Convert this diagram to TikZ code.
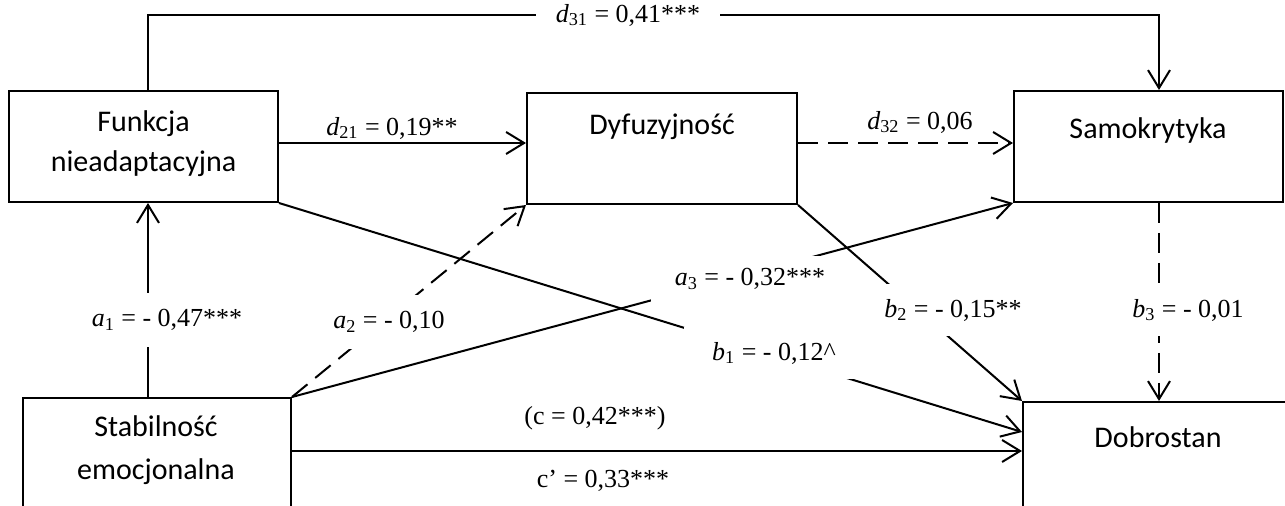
\documentclass[tikz,border=0pt]{standalone}
\usepackage{fontspec}
\setmainfont{Liberation Serif}
\newfontfamily\boxfont{Carlito}
\usetikzlibrary{arrows.meta,positioning,calc}
\newcommand{\pvar}[2]{\textit{#1}\textsubscript{#2}}

\begin{document}
\begin{tikzpicture}[x=0.5pt, y=-0.5pt,
    box/.style={draw, line width=1pt, inner sep=0pt},
    boxtext/.style={font=\boxfont\fontsize{15}{20}\selectfont, align=center, inner sep=0pt},
    path/.style={line width=1pt, -{Straight Barb[length=9pt,width=11pt]}},
    nsdash/.style={dash pattern=on 10pt off 5pt},
    coef/.style={fill=white, inner xsep=2pt, inner ysep=7.5pt, font=\fontsize{13}{15}\selectfont}]
  \useasboundingbox (0,0) rectangle (1285,506);
  \clip (0,0) rectangle (1285,506);
  % variables
  \node[box, minimum width=134.5pt, minimum height=55.5pt] (funk) at (143.5,146.5) {};
  \node[boxtext] (funkT) at (143.5,143.5) {Funkcja\\nieadaptacyjna};
  \node[box, minimum width=135pt, minimum height=55.5pt] (dyf) at (662,148.5) {};
  \node[boxtext, anchor=base] (dyfT) at (662,135) {Dyfuzyjność};
  \node[box, minimum width=134.5pt, minimum height=55.5pt] (samo) at (1148.5,146.5) {};
  \node[boxtext, anchor=base] (samoT) at (1148,139) {Samokrytyka};
  \node[box, minimum width=134pt, minimum height=66pt] (stab) at (157,464) {};
  \node[boxtext, font=\boxfont\fontsize{15}{21.5}\selectfont] (stabT) at (156,450.5) {Stabilność\\emocjonalna};
  \node[box, minimum width=143.5pt, minimum height=69pt] (dobr) at (1166.5,471) {};
  \node[boxtext, anchor=base] (dobrT) at (1158,448) {Dobrostan};
  % d31 over the top
  \coordinate (topL) at (148,15);
  \coordinate (topR) at (1159,15);
  \draw[path] (funk.north -| topL) -- (topL) -- (topR) -- (samo.north -| topR);
  \node[coef, inner xsep=10pt, inner ysep=2pt] (d31) at (628,15) {\pvar{d}{31} = 0,41***};
  % d21, d32
  \draw[path] (funk.east |- 0,143) -- (dyf.west |- 0,143);
  \node[coef, fill=none, inner ysep=2pt] (d21) at (392,128) {\pvar{d}{21} = 0,19**};
  \draw[path, nsdash] (dyf.east |- 0,143) -- (samo.west |- 0,143);
  \node[coef, fill=none, inner ysep=2pt] (d32) at (920,122) {\pvar{d}{32} = 0,06};
  % a paths
  \draw[path] (stab.north -| topL) -- (funk.south -| topL);
  \draw[path, nsdash] (stab.north east) -- (dyf.south west);
  \draw[path] (stab.north east) -- (samo.south west);
  % b paths
  \draw[path] (funk.south east) -- ($(dobr.north west)+(0,31)$);
  \draw[path] (dyf.south east) -- (dobr.north west);
  \draw[path, nsdash] (samo.south -| topR) -- (dobr.north -| topR);
  % c'
  \draw[path] (stab.east |- 0,451) -- (dobr.west |- 0,451);
  % coefficients
  \node[coef, inner ysep=8pt] (a1) at (167,320) {\pvar{a}{1} = - 0,47***};
  \node[coef, inner ysep=8pt] (a2) at (389,322) {\pvar{a}{2} = - 0,10};
  \node[coef, inner xsep=12pt, inner ysep=6pt] (a3) at (750,279) {\pvar{a}{3} = - 0,32***};
  \node[coef, inner xsep=14pt] (b1) at (774,353) {\pvar{b}{1} = - 0,12\textasciicircum};
  \node[coef] (b2) at (953,310) {\pvar{b}{2} = - 0,15**};
  \node[coef] (b3) at (1188,310) {\pvar{b}{3} = - 0,01};
  \node[coef, fill=none, inner ysep=2pt] (c) at (595,418) {(c = 0,42***)};
  \node[coef, fill=none, inner ysep=2pt] (cp) at (603,481) {c’ = 0,33***};
\end{tikzpicture}
\end{document}
